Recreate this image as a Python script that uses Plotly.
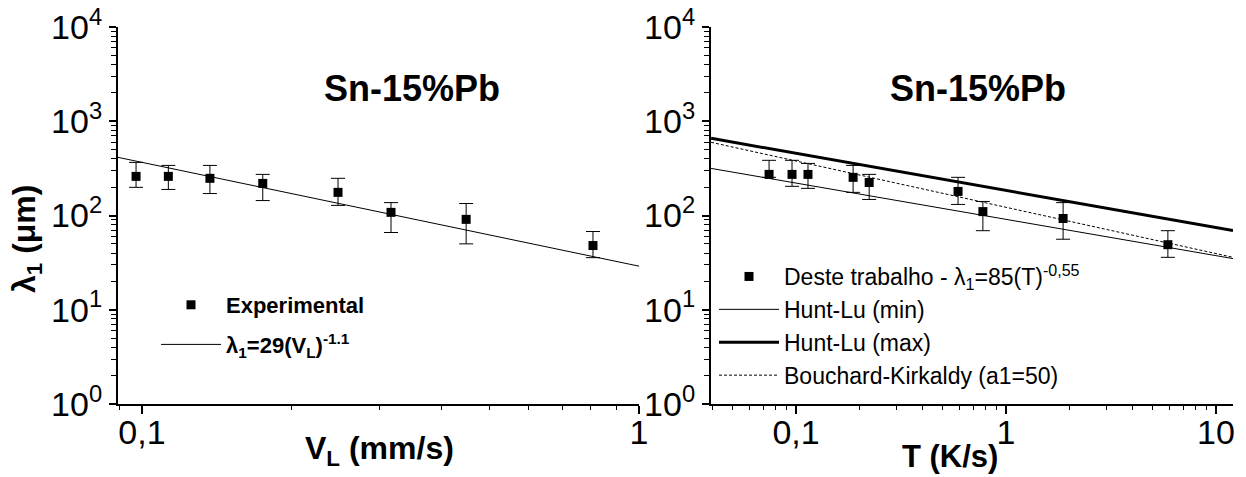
import plotly.graph_objects as go

# ---------------- data ----------------
# Left panel: lambda_1 vs growth rate V_L
vl = [0.0973, 0.113, 0.137, 0.175, 0.248, 0.317, 0.449, 0.808]
lam_left = [260, 260, 248, 219, 176, 108, 91, 48]
lam_left_hi = [366, 340, 340, 273, 248, 137, 134, 67.6]
lam_left_lo = [199, 189, 171, 144, 128, 66, 50, 35.7]
fit_left_x = [0.0895, 1.0]
fit_left_y = [414, 29]

# Right panel: lambda_1 vs cooling rate T
tr = [0.0744, 0.0957, 0.114, 0.187, 0.223, 0.591, 0.776, 1.87, 5.90]
lam_right = [273, 273, 273, 254, 224, 180, 110, 93, 49]
lam_right_hi = [385, 385, 357, 340, 273, 254, 141, 137, 69]
lam_right_lo = [254, 204, 194, 176, 148, 131, 69, 56, 36]
model_x = [0.0394, 12.05]
hunt_min = [316, 34.9]
hunt_max = [659, 69.3]
bouchard = [598, 36]

y_ticks = [1, 10, 100, 1000, 10000]
y_ticktext = ["10<sup>0</sup>", "10<sup>1</sup>", "10<sup>2</sup>", "10<sup>3</sup>", "10<sup>4</sup>"]
xl_ticks = [0.1, 1]
xl_ticktext = ["0,1", "1"]
xr_ticks = [0.1, 1, 10]
xr_ticktext = ["0,1", "1", "10"]

FONT = "Liberation Sans, Arial, sans-serif"
BLACK = "#000000"

def minor_vals(lo_exp, hi_exp):
    return [m * 10.0 ** e for e in range(lo_exp, hi_exp) for m in range(2, 10)]

fig = go.Figure()

# ---- left panel ----
fig.add_trace(go.Scatter(
    x=fit_left_x, y=fit_left_y, mode="lines",
    line=dict(color=BLACK, width=1),
    name="<b>λ<sub>1</sub>=29(V<sub>L</sub>)<sup>-1.1</sup></b>",
    legend="legend", legendgroup="l2", legendrank=2,
    xaxis="x", yaxis="y"))
fig.add_trace(go.Scatter(
    x=vl, y=lam_left, mode="markers",
    marker=dict(symbol="square", size=9, color=BLACK),
    error_y=dict(type="data", symmetric=False,
                 array=[h - v for h, v in zip(lam_left_hi, lam_left)],
                 arrayminus=[v - l for v, l in zip(lam_left, lam_left_lo)],
                 color=BLACK, thickness=1, width=7),
    name="<b>Experimental</b>",
    legend="legend", legendgroup="l1", legendrank=1,
    xaxis="x", yaxis="y"))

# ---- right panel ----
fig.add_trace(go.Scatter(
    x=model_x, y=hunt_min, mode="lines",
    line=dict(color=BLACK, width=1),
    name="Hunt-Lu (min)", legend="legend2", legendgroup="r2", legendrank=2,
    xaxis="x2", yaxis="y2"))
fig.add_trace(go.Scatter(
    x=model_x, y=hunt_max, mode="lines",
    line=dict(color=BLACK, width=3),
    name="Hunt-Lu (max)", legend="legend2", legendgroup="r3", legendrank=3,
    xaxis="x2", yaxis="y2"))
fig.add_trace(go.Scatter(
    x=model_x, y=bouchard, mode="lines",
    line=dict(color=BLACK, width=1, dash="3px,2px"),
    name="Bouchard-Kirkaldy (a1=50)", legend="legend2", legendgroup="r4", legendrank=4,
    xaxis="x2", yaxis="y2"))
fig.add_trace(go.Scatter(
    x=tr, y=lam_right, mode="markers",
    marker=dict(symbol="square", size=9, color=BLACK),
    error_y=dict(type="data", symmetric=False,
                 array=[h - v for h, v in zip(lam_right_hi, lam_right)],
                 arrayminus=[v - l for v, l in zip(lam_right, lam_right_lo)],
                 color=BLACK, thickness=1, width=7),
    name="Deste trabalho - λ<sub>1</sub>=85(T)<sup>-0,55</sup>",
    legend="legend2", legendgroup="r1", legendrank=1,
    xaxis="x2", yaxis="y2"))

W, H = 1246, 477
def px(x):
    return x / W
def py(y):
    return 1 - y / H

axis_common = dict(
    type="log", showgrid=False, zeroline=False, showline=True,
    linecolor=BLACK, linewidth=2, ticks="outside", tickcolor=BLACK,
    tickwidth=1.5, tickfont=dict(family=FONT, size=34, color=BLACK),
    mirror=False, automargin=False,
)

yaxis = dict(axis_common, range=[0, 4], tickmode="array", tickvals=y_ticks,
             ticktext=y_ticktext, ticklen=7,
             minor=dict(tickmode="array", tickvals=minor_vals(0, 4), ticks="outside",
                        ticklen=5, tickcolor=BLACK, tickwidth=1.2),
             domain=[py(404), py(27)])

fig.update_layout(
    width=W, height=H, autosize=False,
    margin=dict(l=0, r=0, t=0, b=0, pad=0, autoexpand=False),
    paper_bgcolor="white", plot_bgcolor="white",
    font=dict(family=FONT, color=BLACK),
    showlegend=True,
    xaxis=dict(axis_common, range=[-1.0482, 0], domain=[px(118), px(639)],
               tickmode="array", tickvals=xl_ticks, ticktext=xl_ticktext, ticklen=8,
               ticklabelstandoff=-11,
               minor=dict(tickmode="array", tickvals=minor_vals(-2, 0), ticks="outside",
                          ticklen=4, tickcolor=BLACK, tickwidth=1.2),
               anchor="y"),
    yaxis=dict(yaxis, anchor="x"),
    xaxis2=dict(axis_common, range=[-1.405, 1.081], domain=[px(711), px(1233)],
                tickmode="array", tickvals=xr_ticks, ticktext=xr_ticktext, ticklen=8,
                ticklabelstandoff=-11,
                minor=dict(tickmode="array", tickvals=minor_vals(-2, 1), ticks="outside",
                           ticklen=4, tickcolor=BLACK, tickwidth=1.2),
                anchor="y2"),
    yaxis2=dict(yaxis, anchor="x2"),
    legend=dict(x=px(156), y=py(284), xanchor="left", yanchor="top",
                bgcolor="rgba(0,0,0,0)", borderwidth=0, itemwidth=60,
                tracegroupgap=8,
                font=dict(family=FONT, size=22, color=BLACK)),
    legend2=dict(x=px(714), y=py(255), xanchor="left", yanchor="top",
                 bgcolor="rgba(0,0,0,0)", borderwidth=0, itemwidth=60,
                 tracegroupgap=0,
                 font=dict(family=FONT, size=23, color=BLACK)),
    annotations=[
        dict(text="<b>Sn-15%Pb</b>", x=px(412), y=py(88), xref="paper", yref="paper",
             xanchor="center", yanchor="middle",
             showarrow=False, font=dict(family=FONT, size=36, color=BLACK)),
        dict(text="<b>Sn-15%Pb</b>", x=px(978), y=py(88), xref="paper", yref="paper",
             xanchor="center", yanchor="middle",
             showarrow=False, font=dict(family=FONT, size=36, color=BLACK)),
        dict(text="<b>λ<sub>1</sub> (μm)</b>", x=px(27), y=py(239), xref="paper", yref="paper",
             xanchor="center", yanchor="middle",
             textangle=-90, showarrow=False, font=dict(family=FONT, size=32, color=BLACK)),
        dict(text="<b>V<sub>L</sub> (mm/s)</b>", x=px(379), y=py(450), xref="paper", yref="paper",
             xanchor="center", yanchor="middle",
             showarrow=False, font=dict(family=FONT, size=32, color=BLACK)),
        dict(text="<b>T (K/s)</b>", x=px(950), y=py(456), xref="paper", yref="paper",
             xanchor="center", yanchor="middle",
             showarrow=False, font=dict(family=FONT, size=31, color=BLACK)),
    ],
)

fig.write_html("out.html")
